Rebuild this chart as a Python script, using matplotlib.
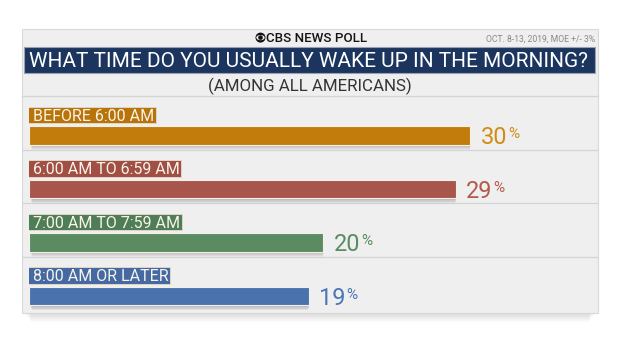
import matplotlib.pyplot as plt
from matplotlib.patches import Rectangle, Circle, Ellipse

plt.rcParams['font.family'] = ['Roboto', 'DejaVu Sans']

header = "CBS NEWS POLL"
source = "OCT. 8-13, 2019, MOE +/- 3%"
title = "WHAT TIME DO YOU USUALLY WAKE UP IN THE MORNING?"
subtitle = "(AMONG ALL AMERICANS)"

answers = ["BEFORE 6:00 AM", "6:00 AM TO 6:59 AM", "7:00 AM TO 7:59 AM", "8:00 AM OR LATER"]
shares = [30, 29, 20, 19]

bar_colors = ['#c27c0c', '#a8564b', '#5b8b61', '#4a73ae']
tag_colors = ['#b87409', '#a14f45', '#4f7d55', '#4469a3']
value_colors = ['#d28c16', '#b3594c', '#5a8c5f', '#4a76b6']

W, H = 620, 349
fig = plt.figure(figsize=(W / 100, H / 100), dpi=100)
fig.patch.set_facecolor('white')

# background card, drawn in pixel units
bg = fig.add_axes([0, 0, 1, 1])
bg.set_xlim(0, W)
bg.set_ylim(H, 0)
bg.axis('off')

for k in range(1, 10):
    bg.add_patch(Rectangle((24 + k * 0.8, 29.3), 572 - k * 1.6, 284 + k,
                           fc='black', alpha=0.014, lw=0))
bg.add_patch(Rectangle((21.7, 29.3), 576, 284, fc='#efefef', ec='#d9d9d9', lw=0.8))

# logo + poll name
bg.add_patch(Circle((260.5, 37.6), 5.0, fc='#111111', lw=0))
bg.add_patch(Ellipse((260.5, 37.6), 8.4, 5.2, fc='#efefef', lw=0))
bg.add_patch(Circle((260.5, 37.6), 2.3, fc='#111111', lw=0))
bg.text(266, 42.2, header, fontsize=9.6, color='#151515', ha='left', va='baseline',
        fontweight='medium')
bg.text(595, 41.6, source, fontsize=6.2, color='#8a8a8a', ha='right', va='baseline')

bg.add_patch(Rectangle((24.3, 46.7), 570.7, 26, fc='#1c355e', ec='#98a3b2', lw=0.8))
bg.text(308.9, 66.7, title, fontsize=15.0, color='white', ha='center', va='baseline')
bg.text(310, 90.7, subtitle, fontsize=12.2, color='#333333', ha='center', va='baseline')
bg.plot([21.7, 597.7], [96, 96], color='#d4d4d4', lw=0.9)

# bar area: 14.7 px per percentage point, 53.5 px per row
ppx = 14.7
prow = 53.5
ax = fig.add_axes([29.3 / W, (H - 310) / H, 568.4 / W, 4 * prow / H])
ax.set_xlim(0, 568.4 / ppx)
ax.set_ylim(4, 0)
ax.axis('off')
ax.patch.set_alpha(0)
px = 1 / ppx
py = 1 / prow

rows = list(range(len(answers)))
bar_y = [i + 0.738 for i in rows]

# soft drop shadow under each bar
for k in range(1, 10):
    ax.barh([y + k * 0.55 * py for y in bar_y], [v - 0.3 * k * px for v in shares],
            height=0.346, left=(1 + 0.15 * k) * px, color='black', alpha=0.03,
            lw=0, zorder=2)
ax.barh(bar_y, shares, height=0.346, color=bar_colors, edgecolor='#f4efe8',
        linewidth=0.8, zorder=3)

ax.hlines(rows[1:], -7.6 * px, 568.4 / ppx, color='#d4d4d4', lw=0.9, clip_on=False)

tags = []
for i in rows:
    t = ax.text(3.4 * px, i + 0.462, answers[i], fontsize=11.5, color='#f8f3ea',
                ha='left', va='baseline', zorder=5)
    tags.append(t)

fig.canvas.draw()
r = fig.canvas.get_renderer()
for i, t in zip(rows, tags):
    bb = t.get_window_extent(r).transformed(ax.transData.inverted())
    ax.add_patch(Rectangle((-1 * px, i + 0.2), bb.x1 + 3 * px, 0.31,
                           fc=tag_colors[i], ec='#e0d6c8', lw=0.7, zorder=4))

for i in rows:
    num = ax.text(shares[i] + 10.3 * px, i + 0.903, str(shares[i]), fontsize=16.9,
                  color=value_colors[i], ha='left', va='baseline')
    ax.annotate('%', xy=(1, i + 0.79), xycoords=(num, 'data'), xytext=(1.0, 0),
                textcoords='offset points', fontsize=11.0, color=value_colors[i],
                ha='left', va='baseline')

fig.savefig('out.png', dpi=100)
